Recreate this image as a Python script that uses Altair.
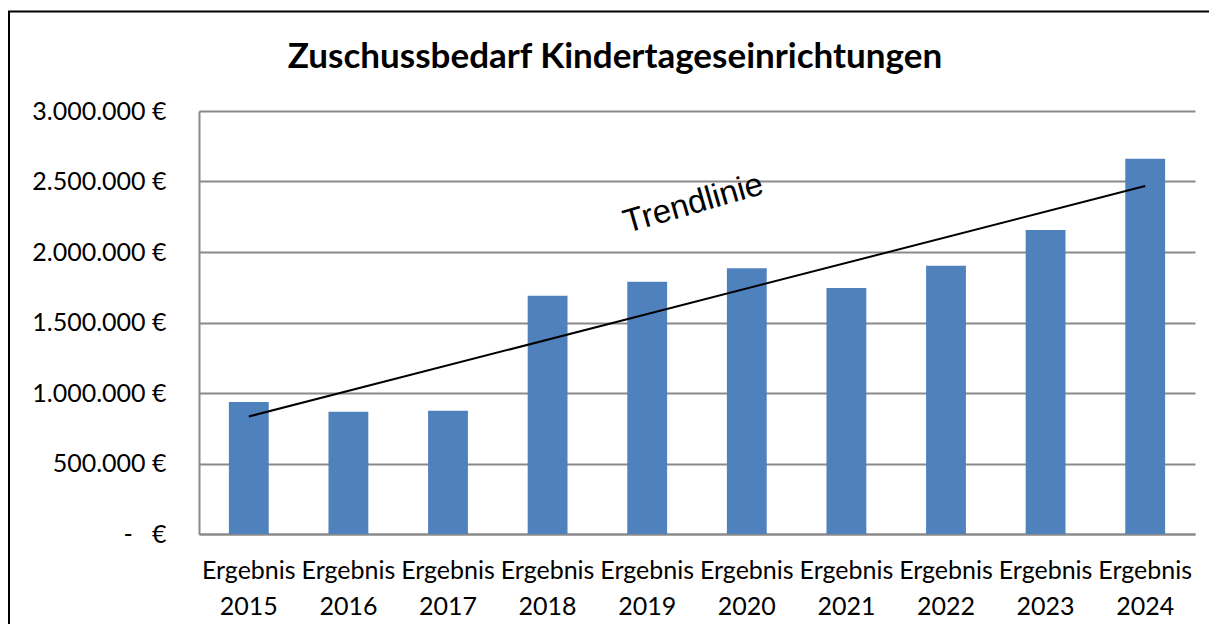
import altair as alt
import numpy as np
import pandas as pd

# ---- data ----
years = ["2015", "2016", "2017", "2018", "2019", "2020", "2021", "2022", "2023", "2024"]
label_prefix = "Ergebnis"
values = [936000, 867000, 874000, 1690000, 1789000, 1884000, 1745000, 1903000, 2156000, 2662000]
y_tick_values = [0, 500000, 1000000, 1500000, 2000000, 2500000, 3000000]
chart_title = "Zuschussbedarf Kindertageseinrichtungen"
trend_text = ["Trendlinie"]
trend_text_year = ["2019"]
trend_text_value = [2250000]

bars_df = pd.DataFrame({"Jahr": years, "Wert": values})
slope, intercept = np.polyfit(np.arange(len(values)), values, 1)
trend_df = pd.DataFrame({
    "Jahr": [years[0], years[-1]],
    "Wert": [intercept, intercept + slope * (len(values) - 1)],
})
note_df = pd.DataFrame({"Jahr": trend_text_year, "Wert": trend_text_value, "t": trend_text})
frame_df = pd.DataFrame({"k": [0]})

GRID = "#8a8a8a"
FONT = "Lato"

x_enc = alt.X(
    "Jahr:N",
    sort=years,
    scale=alt.Scale(domain=years, paddingInner=0.6, paddingOuter=0.3),
    axis=alt.Axis(
        title=None,
        labelExpr=f"['{label_prefix}', datum.value]",
        labelAngle=0,
        labelFont=FONT,
        labelFontSize=25,
        labelColor="black",
        labelLineHeight=36,
        labelBaseline="top",
        labelPadding=24,
        ticks=False,
        domainColor=GRID,
        domainWidth=2,
        grid=False,
    ),
)
y_enc = alt.Y(
    "Wert:Q",
    scale=alt.Scale(domain=[0, 3000000], nice=False, zero=True),
    axis=alt.Axis(
        title=None,
        values=y_tick_values,
        labelExpr="datum.value == 0 ? '-\u00a0\u00a0\u00a0€' : replace(format(datum.value, ',.0f'), /,/g, '.') + '\u00a0€'",
        labelFont=FONT,
        labelFontSize=25,
        labelColor="black",
        labelPadding=33,
        ticks=False,
        tickSize=0,
        domainColor=GRID,
        domainWidth=2,
        grid=True,
        gridColor=GRID,
        gridWidth=2,
    ),
)

bars = alt.Chart(bars_df).mark_bar(color="#4F81BD").encode(x=x_enc, y=y_enc)
trend = alt.Chart(trend_df).mark_line(color="black", strokeWidth=2).encode(x=x_enc, y=y_enc)
note = alt.Chart(note_df).mark_text(
    font="Liberation Sans", fontSize=33, angle=344, dx=48, align="center", baseline="middle", color="black"
).encode(x=x_enc, y=y_enc, text="t:N")

border_left = alt.Chart(frame_df).mark_rule(color="black", strokeWidth=2).encode(
    x=alt.value(-190), y=alt.value(-99.5), y2=alt.value(560)
)
border_top = alt.Chart(frame_df).mark_rule(color="black", strokeWidth=2).encode(
    x=alt.value(-191), x2=alt.value(1040), y=alt.value(-99.5)
)

chart = alt.layer(border_left, border_top, bars, trend, note).properties(
    width=996,
    height=423,
    padding={"left": 191, "top": 103, "right": 14, "bottom": 90},
    autosize=alt.AutoSizeParams(type="none"),
    title=alt.TitleParams(
        text=chart_title,
        font=FONT,
        fontSize=35,
        fontWeight="bold",
        color="black",
        anchor="middle",
        frame="group",
        dx=-82,
        offset=-92.5,
        baseline="alphabetic",
    ),
).configure(background="white").configure_view(stroke="transparent", strokeWidth=0)

chart.save("out.html", embed_options={"renderer": "svg", "actions": False})
